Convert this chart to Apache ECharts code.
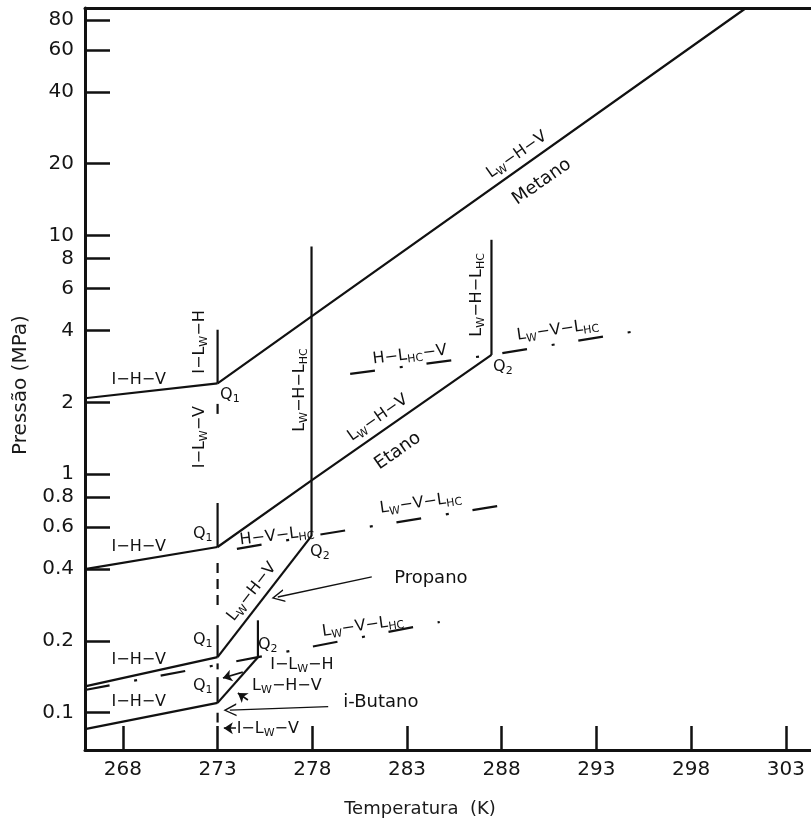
<!DOCTYPE html>
<html>
<head>
<meta charset="utf-8">
<script src="https://cdn.jsdelivr.net/npm/echarts@6/dist/echarts.min.js"></script>
<style>
  html, body { margin: 0; padding: 0; background: #fff; }
  #chart { width: 811px; height: 823px; }
</style>
</head>
<body>
<div id="chart"></div>
<script>
// Axis ticks: temperature (K) and pressure (MPa)
const tempTicks = [268, 273, 278, 283, 288, 293, 298, 303];
const pressureTicks = [0.1, 0.2, 0.4, 0.6, 0.8, 1, 2, 4, 6, 8, 10, 20, 40, 60, 80];

// Methane equilibrium curves [T (K), P (MPa)]
const ch4IHV = [[266.0, 2.08], [273.0, 2.40]];
const ch4LwHV = [[273.0, 2.40], [278.0, 4.61], [300.9, 89.9]];
const ch4ILwH = [[273.0, 2.40], [273.0, 4.03]];
const ch4ILwV = [[273.0, 1.97], [273.0, 1.77]];

// Ethane
const c2IHV = [[266.0, 0.40], [273.0, 0.495]];
const c2LwHV = [[273.0, 0.495], [278.0, 0.946], [287.46, 3.16]];
const c2ILwH = [[273.0, 0.495], [273.0, 0.757]];
const c2ILwV = [[273.0, 0.424], [273.0, 0.283]];
const c2LwHLhc = [[287.46, 3.16], [287.46, 9.6]];
const c2HLhcV = [[280.0, 2.63], [287.46, 3.16]];
const c2LwVLhc = [[287.46, 3.16], [294.87, 3.95]];

// Propane
const c3IHV = [[266.0, 0.129], [273.0, 0.171]];
const c3LwHV = [[273.0, 0.171], [277.96, 0.551]];
const c3ILwH = [[273.0, 0.171], [273.0, 0.233]];
const c3ILwV = [[273.0, 0.161], [273.0, 0.152]];
const c3LwHLhc = [[277.96, 0.551], [277.96, 9.0]];
const c3HVLhc = [[274.02, 0.486], [277.96, 0.551]];
const c3LwVLhc = [[277.96, 0.551], [288.8, 0.757]];

// i-Butane
const ic4IHV = [[266.0, 0.0854], [273.0, 0.110]];
const ic4LwHV = [[273.0, 0.110], [275.13, 0.171]];
const ic4ILwH = [[273.0, 0.110], [273.0, 0.141]];
const ic4ILwV = [[273.0, 0.100], [273.0, 0.091]];
const ic4LwHLhc = [[275.13, 0.171], [275.13, 0.244]];
const ic4HVLhc = [[266.0, 0.1245], [275.13, 0.171]];
const ic4LwVLhc = [[275.13, 0.171], [284.73, 0.240]];

// Pointer arrows [T from, P from, T to, P to]
const openArrows = [[281.14, 0.371, 276.18, 0.3056], [278.84, 0.106, 273.65, 0.1026]];
const solidArrows = [[274.33, 0.148, 273.28, 0.1398], [274.6, 0.1131, 274.07, 0.121], [273.97, 0.0862, 273.33, 0.0862]];

// Phase-region labels [text, T, P, angle in degrees]
const phaseLabels = [
  ['L{s|W}\u2212H\u2212V', 288.80, 21.8, 35],
  ['I\u2212H\u2212V', 268.84, 2.48, 0],
  ['I\u2212L{s|W}\u2212H', 272.06, 3.58, 90],
  ['I\u2212L{s|W}\u2212V', 272.06, 1.43, 90],
  ['L{s|W}\u2212H\u2212L{s|HC}', 277.34, 2.25, 90],
  ['H\u2212L{s|HC}\u2212V', 283.15, 3.16, 7],
  ['L{s|W}\u2212H\u2212L{s|HC}', 286.69, 5.64, 90],
  ['L{s|W}\u2212V\u2212L{s|HC}', 290.96, 4.02, 8],
  ['L{s|W}\u2212H\u2212V', 281.46, 1.72, 35],
  ['I\u2212H\u2212V', 268.84, 0.495, 0],
  ['H\u2212V\u2212L{s|HC}', 276.13, 0.551, 7],
  ['L{s|W}\u2212H\u2212V', 274.81, 0.321, 52],
  ['L{s|W}\u2212V\u2212L{s|HC}', 283.73, 0.757, 8],
  ['I\u2212H\u2212V', 268.84, 0.1664, 0],
  ['L{s|W}\u2212V\u2212L{s|HC}', 280.67, 0.2309, 8],
  ['I\u2212L{s|W}\u2212H', 277.45, 0.1585, 0],
  ['L{s|W}\u2212H\u2212V', 276.66, 0.1294, 0],
  ['I\u2212H\u2212V', 268.84, 0.1109, 0],
  ['I\u2212L{s|W}\u2212V', 275.65, 0.0854, 0]
];

// Quadruple points [text, T, P]
const pointLabels = [
  ['Q{s|1}', 273.65, 2.15],
  ['Q{s|2}', 288.06, 2.81],
  ['Q{s|1}', 272.22, 0.562],
  ['Q{s|2}', 278.40, 0.472],
  ['Q{s|1}', 272.22, 0.2017],
  ['Q{s|2}', 275.65, 0.1922],
  ['Q{s|1}', 272.22, 0.1294]
];

// Hydrocarbon names [text, T, P, angle in degrees]
const gasLabels = [
  ['Metano', 290.12, 16.8, 35],
  ['Etano', 282.52, 1.25, 35],
  ['Propano', 284.26, 0.367, 0],
  ['i-Butano', 281.62, 0.1109, 0]
];

const FONT = 'DejaVu Sans';
const INK = '#111';
const dashDot = [25, 25, 3, 24];

function curve(data, dash, offset) {
  return {
    type: 'line',
    data: data,
    symbol: 'none',
    silent: true,
    clip: true,
    lineStyle: { color: INK, width: 2.2, type: dash || 'solid', dashOffset: offset || 0 },
    z: 3
  };
}

function arrows(list, symbol, size, width) {
  return {
    type: 'lines',
    coordinateSystem: 'cartesian2d',
    silent: true,
    symbol: ['none', symbol],
    symbolSize: size,
    lineStyle: { color: INK, width: width, opacity: 1, curveness: 0 },
    itemStyle: { color: INK },
    data: list.map(a => ({ coords: [[a[0], a[1]], [a[2], a[3]]] })),
    z: 4
  };
}

const chevron = 'path://M6,0 L12,14 L10.6,14 L6,3.2 L1.4,14 L0,14 Z';

const chart = echarts.init(document.getElementById('chart'), null, { renderer: 'canvas' });

chart.setOption({
  animation: false,
  backgroundColor: '#fff',
  textStyle: { fontFamily: FONT },
  grid: { left: 85, right: 0, top: 8, bottom: 73, containLabel: false },
  xAxis: [{
    type: 'value',
    min: 266,
    max: 304.33,
    position: 'bottom',
    axisLine: { show: true, onZero: false, lineStyle: { color: INK, width: 3 } },
    axisTick: { show: true, inside: true, length: 24, customValues: tempTicks, lineStyle: { color: INK, width: 2.5 } },
    axisLabel: { customValues: tempTicks, fontSize: 20, fontFamily: FONT, color: '#151515', margin: 10 },
    splitLine: { show: false },
    name: 'Temperatura  (K)',
    nameLocation: 'middle',
    nameGap: 50,
    nameTextStyle: { fontSize: 18, fontFamily: FONT, color: '#1a1a1a', padding: [0, 56, 0, 0] }
  }, {
    type: 'value',
    min: 266,
    max: 304.33,
    position: 'top',
    axisLine: { show: true, onZero: false, lineStyle: { color: INK, width: 3 } },
    axisTick: { show: false },
    axisLabel: { show: false },
    splitLine: { show: false }
  }],
  yAxis: {
    type: 'log',
    logBase: 10,
    min: 0.0698,
    max: 89.9,
    axisLine: { show: true, onZero: false, lineStyle: { color: INK, width: 3 } },
    axisTick: { show: true, inside: true, length: 25, customValues: pressureTicks, lineStyle: { color: INK, width: 2.5 } },
    axisLabel: { customValues: pressureTicks, fontSize: 20, fontFamily: FONT, color: '#151515', margin: 11 },
    splitLine: { show: false },
    minorTick: { show: false },
    name: 'Pressão (MPa)',
    nameLocation: 'middle',
    nameGap: 48,
    nameTextStyle: { fontSize: 20, fontFamily: FONT, color: '#1a1a1a', padding: [0, 12, 0, 0] }
  },
  series: [
    curve(ch4IHV), curve(ch4LwHV), curve(ch4ILwH), curve(ch4ILwV, [10, 8]),
    curve(c2IHV), curve(c2LwHV), curve(c2ILwH), curve(c2ILwV, [10, 6]),
    curve(c2LwHLhc), curve(c2HLhcV, dashDot, 0), curve(c2LwVLhc, dashDot, 66),
    curve(c3IHV), curve(c3LwHV), curve(c3ILwH), curve(c3ILwV, [10, 6]),
    curve(c3LwHLhc), curve(c3HVLhc, dashDot, 0), curve(c3LwVLhc, dashDot, 68),
    curve(ic4IHV), curve(ic4LwHV), curve(ic4ILwH), curve(ic4ILwV, [10, 6]),
    curve(ic4LwHLhc), curve(ic4HVLhc, dashDot, 0), curve(ic4LwVLhc, dashDot, 21),
    arrows(openArrows, chevron, [11, 13], 1.3),
    arrows(solidArrows, 'arrow', [7, 9], 1.6)
  ]
});

// Text annotations anchored in data space
function textAt(text, T, P, angle, size) {
  const p = chart.convertToPixel({ xAxisIndex: 0, yAxisIndex: 0 }, [T, P]);
  return {
    type: 'text',
    x: p[0],
    y: p[1],
    rotation: (angle || 0) * Math.PI / 180,
    silent: true,
    z: 10,
    style: {
      text: text,
      fill: INK,
      fontSize: size,
      fontFamily: FONT,
      align: 'center',
      verticalAlign: 'middle',
      lineHeight: 22,
      rich: {
        s: { fontSize: Math.round(size * 0.68), fontFamily: FONT, fill: INK, padding: [9, 0, 0, 0] }
      }
    }
  };
}

const graphics = []
  .concat(phaseLabels.map(l => textAt(l[0], l[1], l[2], l[3], 16)))
  .concat(pointLabels.map(l => textAt(l[0], l[1], l[2], 0, 16)))
  .concat(gasLabels.map(l => textAt(l[0], l[1], l[2], l[3], 18)));

chart.setOption({ graphic: graphics });
</script>
</body>
</html>
